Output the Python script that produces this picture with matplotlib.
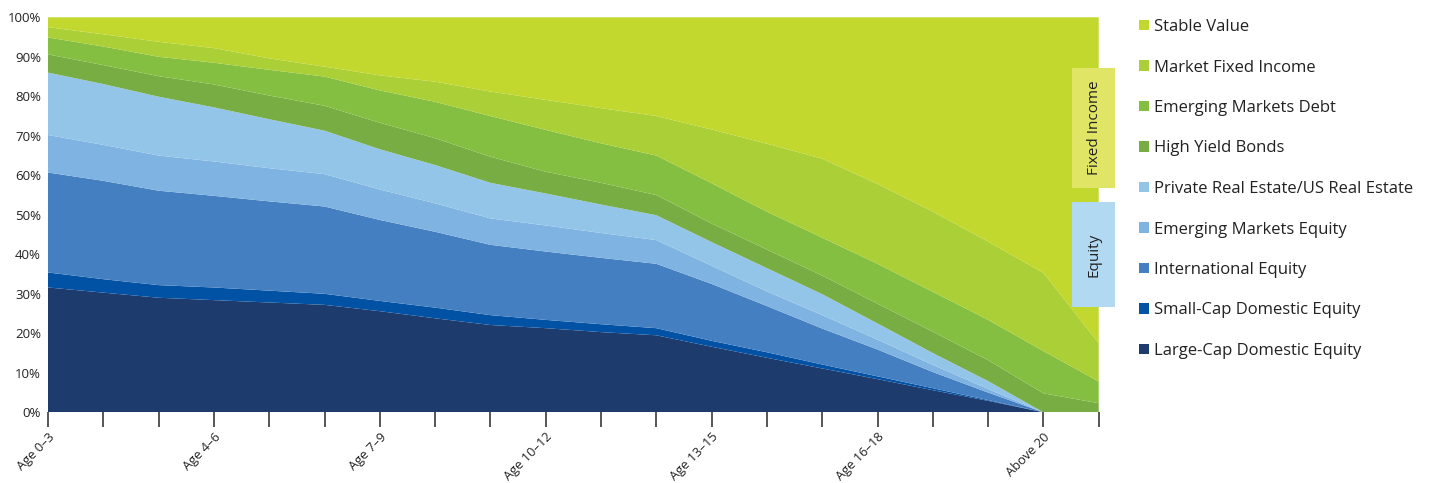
"""
Glide path chart: stacked allocation by age band, with legend and
Fixed Income / Equity side labels.
"""

import matplotlib.pyplot as plt
import numpy as np
from matplotlib.patches import Patch, Rectangle

plt.rcParams["font.family"] = ["Open Sans", "DejaVu Sans"]

# 20 glide path steps; labels only on every third step
STEPS = list(range(20))
TICK_LABELS = {
    0: "Age 0\u20133",
    3: "Age 4\u20136",
    6: "Age 7\u20139",
    9: "Age 10\u201312",
    12: "Age 13\u201315",
    15: "Age 16\u201318",
    18: "Above 20",
}

# allocations (%), bottom of the stack first
large_cap = [31.6, 30.3, 29.0, 28.4, 27.8, 27.2, 25.6, 23.8, 22.1, 21.3,
             20.3, 19.5, 16.6, 13.8, 11.1, 8.4, 5.6, 2.9, 0.0, 0.0]
small_cap = [3.8, 3.4, 3.2, 3.2, 3.0, 2.8, 2.6, 2.7, 2.5, 2.1,
             2.0, 1.8, 1.5, 1.4, 1.0, 0.7, 0.5, 0.2, 0.0, 0.0]
international = [25.3, 24.9, 23.9, 23.2, 22.6, 22.1, 20.5, 19.2, 17.8, 17.3,
                 16.8, 16.3, 14.4, 11.7, 9.1, 6.8, 4.1, 1.9, 0.0, 0.0]
em_equity = [9.5, 9.1, 8.9, 8.7, 8.4, 8.2, 7.7, 7.2, 6.7, 6.6,
             6.3, 6.0, 4.6, 3.7, 3.4, 2.5, 1.8, 0.9, 0.0, 0.0]
real_estate = [15.8, 15.4, 14.9, 13.7, 12.4, 11.0, 10.2, 9.7, 9.0, 8.1,
               7.2, 6.3, 6.0, 5.9, 5.3, 4.1, 3.0, 2.0, 0.0, 0.0]
high_yield = [4.6, 4.8, 5.2, 5.8, 6.0, 6.3, 6.7, 6.8, 6.6, 5.5,
              5.5, 5.1, 4.7, 4.7, 4.7, 5.0, 5.4, 5.3, 4.8, 2.3]
em_debt = [4.3, 4.7, 4.9, 5.5, 6.5, 7.4, 8.2, 9.2, 10.3, 10.6,
           10.0, 10.0, 10.2, 9.6, 9.6, 10.1, 10.1, 10.2, 10.7, 5.5]
market_fixed = [2.6, 3.1, 3.8, 3.7, 2.9, 2.5, 3.8, 5.1, 6.2, 7.6,
                8.9, 10.0, 13.6, 17.2, 20.0, 20.2, 20.3, 19.8, 19.8, 9.7]
stable_value = [2.5, 4.3, 6.2, 7.8, 10.4, 12.5, 14.7, 16.3, 18.8, 20.9,
                23.0, 25.0, 28.4, 32.0, 35.8, 42.2, 49.2, 56.8, 64.7, 82.5]

SERIES = [
    ("Large-Cap Domestic Equity", large_cap, "#1d3b6c"),
    ("Small-Cap Domestic Equity", small_cap, "#0152a5"),
    ("International Equity", international, "#447fc1"),
    ("Emerging Markets Equity", em_equity, "#7fb3e1"),
    ("Private Real Estate/US Real Estate", real_estate, "#93c5e9"),
    ("High Yield Bonds", high_yield, "#78ad43"),
    ("Emerging Markets Debt", em_debt, "#85bf41"),
    ("Market Fixed Income", market_fixed, "#aacf37"),
    ("Stable Value", stable_value, "#c2d82f"),
]


def main():
    fig = plt.figure(figsize=(14.42, 4.83), dpi=100)
    ax = fig.add_axes([48 / 1442, 1 - 412.3 / 483,
                       (1098.7 - 48) / 1442, (412.3 - 17.3) / 483])

    names = [s[0] for s in SERIES]
    values = np.array([s[1] for s in SERIES])
    colors = [s[2] for s in SERIES]

    ax.stackplot(STEPS, values, colors=colors, linewidth=0)

    ax.set_xlim(0, 19)
    ax.set_ylim(0, 100)
    for spine in ax.spines.values():
        spine.set_visible(False)

    ax.set_yticks(range(0, 101, 10))
    ax.set_yticklabels([f"{v}%" for v in range(0, 101, 10)],
                       fontsize=9.5, color="#222222")
    ax.tick_params(axis="y", length=0, pad=5)

    ax.set_xticks(STEPS)
    ax.set_xticklabels([TICK_LABELS.get(s, "") for s in STEPS],
                       rotation=45, ha="right", rotation_mode="anchor",
                       fontsize=9.3, color="#222222")
    ax.tick_params(axis="x", length=11, width=1.4, color="#555555", pad=2)

    # side labels for the two asset groups
    boxes = [("Fixed Income", 68, 188, "#e1e566"),
             ("Equity", 202, 307, "#b1d9f1")]
    for text, top, bottom, color in boxes:
        fig.add_artist(Rectangle(
            (1072 / 1442, 1 - bottom / 483), 43 / 1442, (bottom - top) / 483,
            transform=fig.transFigure, facecolor=color, edgecolor="none"))
        fig.text(1094 / 1442, 1 - (top + bottom) / 2 / 483, text,
                 rotation=90, ha="center", va="center",
                 fontsize=11, color="#222222")

    handles = [Patch(facecolor=c, edgecolor="none") for c in colors]
    fig.legend(handles[::-1], names[::-1],
               loc="upper left", bbox_to_anchor=(1139 / 1442, 1 - 19 / 483),
               frameon=False, fontsize=12, labelcolor="#222222",
               handlelength=0.58, handleheight=0.58, handletextpad=0.3,
               labelspacing=1.47, borderpad=0, borderaxespad=0)

    fig.savefig("out.png", dpi=100)
    plt.close(fig)


if __name__ == "__main__":
    main()
